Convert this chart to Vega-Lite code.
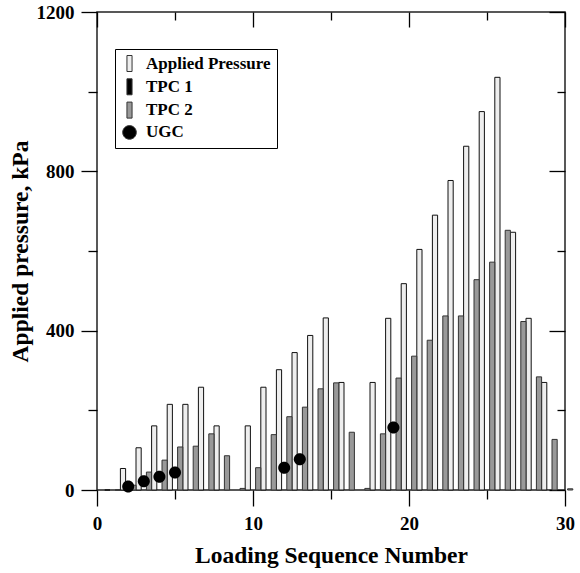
{
  "$schema": "https://vega.github.io/schema/vega-lite/v6.json",
  "autosize": "none",
  "width": 468,
  "height": 478,
  "padding": {"left": 97, "top": 12, "right": 15, "bottom": 83},
  "background": "white",
  "config": {
    "view": {"stroke": "#222", "strokeWidth": 1.5},
    "font": "Liberation Serif"
  },
  "data": {
    "values": [
      {"seq": 1, "series": "Applied Pressure", "value": 0},
      {"seq": 2, "series": "Applied Pressure", "value": 54},
      {"seq": 3, "series": "Applied Pressure", "value": 106},
      {"seq": 4, "series": "Applied Pressure", "value": 161},
      {"seq": 5, "series": "Applied Pressure", "value": 215},
      {"seq": 6, "series": "Applied Pressure", "value": 215},
      {"seq": 7, "series": "Applied Pressure", "value": 258},
      {"seq": 8, "series": "Applied Pressure", "value": 161},
      {"seq": 10, "series": "Applied Pressure", "value": 161},
      {"seq": 11, "series": "Applied Pressure", "value": 258},
      {"seq": 12, "series": "Applied Pressure", "value": 302},
      {"seq": 13, "series": "Applied Pressure", "value": 345},
      {"seq": 14, "series": "Applied Pressure", "value": 388},
      {"seq": 15, "series": "Applied Pressure", "value": 432},
      {"seq": 16, "series": "Applied Pressure", "value": 270},
      {"seq": 18, "series": "Applied Pressure", "value": 270},
      {"seq": 19, "series": "Applied Pressure", "value": 431},
      {"seq": 20, "series": "Applied Pressure", "value": 518},
      {"seq": 21, "series": "Applied Pressure", "value": 604},
      {"seq": 22, "series": "Applied Pressure", "value": 690},
      {"seq": 23, "series": "Applied Pressure", "value": 777},
      {"seq": 24, "series": "Applied Pressure", "value": 863},
      {"seq": 25, "series": "Applied Pressure", "value": 950},
      {"seq": 26, "series": "Applied Pressure", "value": 1036},
      {"seq": 27, "series": "Applied Pressure", "value": 647},
      {"seq": 28, "series": "Applied Pressure", "value": 431},
      {"seq": 29, "series": "Applied Pressure", "value": 270},
      {"seq": 1, "series": "TPC 2", "value": 0},
      {"seq": 2, "series": "TPC 2", "value": 12},
      {"seq": 3, "series": "TPC 2", "value": 45},
      {"seq": 4, "series": "TPC 2", "value": 75},
      {"seq": 5, "series": "TPC 2", "value": 108},
      {"seq": 6, "series": "TPC 2", "value": 110},
      {"seq": 7, "series": "TPC 2", "value": 141},
      {"seq": 8, "series": "TPC 2", "value": 86},
      {"seq": 9, "series": "TPC 2", "value": 4},
      {"seq": 10, "series": "TPC 2", "value": 56},
      {"seq": 11, "series": "TPC 2", "value": 139},
      {"seq": 12, "series": "TPC 2", "value": 184},
      {"seq": 13, "series": "TPC 2", "value": 208},
      {"seq": 14, "series": "TPC 2", "value": 254},
      {"seq": 15, "series": "TPC 2", "value": 269},
      {"seq": 16, "series": "TPC 2", "value": 145},
      {"seq": 17, "series": "TPC 2", "value": 4},
      {"seq": 18, "series": "TPC 2", "value": 141},
      {"seq": 19, "series": "TPC 2", "value": 281},
      {"seq": 20, "series": "TPC 2", "value": 336},
      {"seq": 21, "series": "TPC 2", "value": 376},
      {"seq": 22, "series": "TPC 2", "value": 437},
      {"seq": 23, "series": "TPC 2", "value": 437},
      {"seq": 24, "series": "TPC 2", "value": 528},
      {"seq": 25, "series": "TPC 2", "value": 572},
      {"seq": 26, "series": "TPC 2", "value": 652},
      {"seq": 27, "series": "TPC 2", "value": 423},
      {"seq": 28, "series": "TPC 2", "value": 284},
      {"seq": 29, "series": "TPC 2", "value": 127},
      {"seq": 30, "series": "TPC 2", "value": 3},
      {"seq": 2, "series": "UGC", "value": 9},
      {"seq": 3, "series": "UGC", "value": 22},
      {"seq": 4, "series": "UGC", "value": 33},
      {"seq": 5, "series": "UGC", "value": 44},
      {"seq": 12, "series": "UGC", "value": 56},
      {"seq": 13, "series": "UGC", "value": 77},
      {"seq": 19, "series": "UGC", "value": 157}
    ]
  },
  "resolve": {"axis": {"x": "independent", "y": "independent"}},
  "layer": [
    {
      "transform": [{"filter": "datum.series === 'Applied Pressure'"}],
      "mark": {"type": "bar", "size": 5.2, "xOffset": -5.2, "stroke": "#111", "strokeWidth": 1},
      "encoding": {
        "x": {
          "field": "seq", "type": "quantitative",
          "scale": {"domain": [0, 30], "nice": false, "zero": false, "padding": 0},
          "axis": {
            "orient": "bottom", "values": [0, 5, 10, 15, 20, 25, 30],
            "labelExpr": "datum.value % 10 === 0 ? datum.label : ''",
            "tickSize": {"condition": {"test": "datum.value % 10 !== 0", "value": 9}, "value": 16},
            "tickColor": "#000", "tickWidth": 1.3, "domain": false, "grid": false,
            "labelFont": "Liberation Serif", "labelFontWeight": "bold", "labelFontSize": 19, "labelColor": "#000",
            "labelPadding": 8, "labelFlush": false, "labelOverlap": false,
            "title": "Loading Sequence Number", "titleFont": "Liberation Serif", "titleFontWeight": "bold",
            "titleFontSize": 23.5, "titleColor": "#000", "titlePadding": 10
          }
        },
        "y": {
          "field": "value", "type": "quantitative",
          "scale": {"domain": [0, 1200], "nice": false, "padding": 0},
          "axis": {
            "orient": "left", "values": [0, 200, 400, 600, 800, 1000, 1200], "format": "d",
            "labelExpr": "datum.value % 400 === 0 ? datum.label : ''",
            "tickSize": {"condition": {"test": "datum.value % 400 !== 0", "value": 9}, "value": 16},
            "tickColor": "#000", "tickWidth": 1.3, "domain": false, "grid": false,
            "labelFont": "Liberation Serif", "labelFontWeight": "bold", "labelFontSize": 19, "labelColor": "#000",
            "labelPadding": 7, "labelOverlap": false, "labelFlush": false,
            "title": "Applied pressure, kPa", "titleFont": "Liberation Serif", "titleFontWeight": "bold",
            "titleFontSize": 23.5, "titleColor": "#000", "titlePadding": 4
          }
        },
        "color": {
          "field": "series", "type": "nominal",
          "scale": {"domain": ["Applied Pressure", "TPC 1", "TPC 2", "UGC"], "range": ["#eeeeee", "#000000", "#999999", "#000000"]},
          "legend": {
            "title": null, "orient": "none", "legendX": 18, "legendY": 37,
            "strokeColor": "#000", "padding": 6, "fillColor": "white",
            "symbolSize": 256, "symbolStrokeColor": "#000", "symbolStrokeWidth": 1,
            "labelFont": "Liberation Serif", "labelFontWeight": "bold", "labelFontSize": 17, "labelColor": "#000",
            "labelOffset": 8, "rowPadding": 2.3
          }
        }
      }
    },
    {
      "transform": [{"filter": "datum.series === 'TPC 2'"}],
      "mark": {"type": "bar", "size": 5.2, "xOffset": 5.2, "stroke": "#333", "strokeWidth": 1},
      "encoding": {
        "x": {
          "field": "seq", "type": "quantitative",
          "axis": {
            "orient": "top", "values": [0, 5, 10, 15, 20, 25, 30], "labels": false,
            "tickSize": {"condition": {"test": "datum.value % 10 !== 0", "value": -8}, "value": -15},
            "tickColor": "#000", "tickWidth": 1.3, "domain": false, "grid": false, "title": null
          }
        },
        "y": {
          "field": "value", "type": "quantitative",
          "axis": {
            "orient": "right", "values": [0, 200, 400, 600, 800, 1000, 1200], "labels": false,
            "tickSize": {"condition": {"test": "datum.value % 400 !== 0", "value": -8}, "value": -16},
            "tickColor": "#000", "tickWidth": 1.3, "domain": false, "grid": false, "title": null
          }
        },
        "color": {"field": "series", "type": "nominal"}
      }
    },
    {
      "transform": [{"filter": "datum.series === 'UGC'"}],
      "mark": {"type": "point", "filled": true, "opacity": 1, "size": 200},
      "encoding": {
        "x": {"field": "seq", "type": "quantitative", "axis": null},
        "y": {"field": "value", "type": "quantitative", "axis": null},
        "color": {"field": "series", "type": "nominal"},
        "shape": {
          "field": "series", "type": "nominal",
          "scale": {
            "domain": ["Applied Pressure", "TPC 1", "TPC 2", "UGC"],
            "range": ["M-0.32,-1H0.32V1H-0.32Z", "M-0.32,-1H0.32V1H-0.32Z", "M-0.32,-1H0.32V1H-0.32Z", "M-0.85,0A0.85,0.85,0,1,0,0.85,0A0.85,0.85,0,1,0,-0.85,0Z"]
          }
        }
      }
    }
  ]
}
